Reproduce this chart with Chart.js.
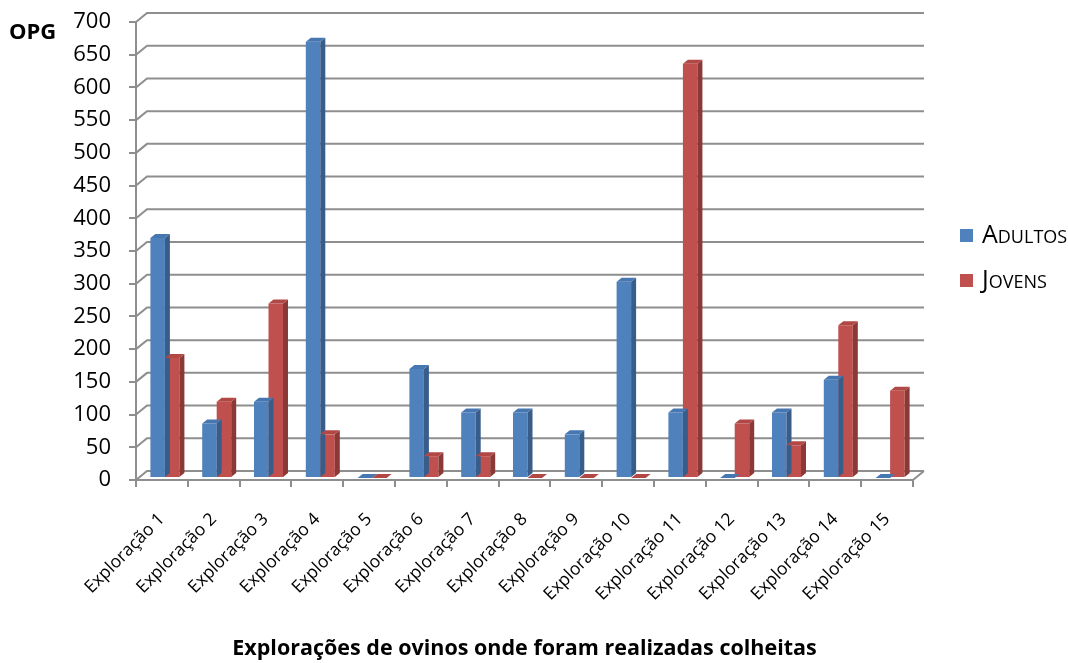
<!DOCTYPE html>
<html>
<head>
<meta charset="utf-8">
<script src="https://cdn.jsdelivr.net/npm/chart.js@4.4.1/dist/chart.umd.min.js"></script>
<style>
  html, body { margin: 0; background: #fff; }
  #chart { display: block; }
</style>
</head>
<body>
<canvas id="chart" width="1068" height="663"></canvas>
<script>
const categories = [
  'Exploração 1', 'Exploração 2', 'Exploração 3', 'Exploração 4', 'Exploração 5',
  'Exploração 6', 'Exploração 7', 'Exploração 8', 'Exploração 9', 'Exploração 10',
  'Exploração 11', 'Exploração 12', 'Exploração 13', 'Exploração 14', 'Exploração 15',
];
const adultos = [366.7, 83.3, 116.7, 666.7, 0, 166.7, 100, 100, 66.7, 300, 100, 0, 100, 150, 0];
const jovens = [183.3, 116.7, 266.7, 66.7, 0, 33.3, 33.3, 0, 0, 0, 633.3, 83.3, 50, 233.3, 133.3];
const yMin = 0;
const yMax = 700;
const yStep = 50;

const FONT = '"Open Sans", sans-serif';
const LINE = '#8e8e8e';

// back wall sits up and to the right of the front axes
const WALL = { dx: 11, dy: 9 };
// bar depth (side and top faces) and where the bar row sits between front and back
const BAR = { dx: 5, dy: 4 };
const ROW = { dx: 3, dy: -2 };

const series = [
  { label: 'Adultos', data: adultos, front: '#4f81bd', side: '#385d8a', top: '#4777b0' },
  { label: 'Jovens', data: jovens, front: '#c0504d', side: '#8c3836', top: '#b24845' },
];

const depth = {
  id: 'depth',
  beforeDatasetsDraw(chart) {
    const { ctx, chartArea: a, scales: { y } } = chart;
    ctx.save();
    ctx.strokeStyle = LINE;
    ctx.lineWidth = 2;
    ctx.beginPath();
    y.ticks.forEach((t) => {
      const py = y.getPixelForValue(t.value);
      ctx.moveTo(a.left, py);
      ctx.lineTo(a.left + WALL.dx, py - WALL.dy);
      ctx.lineTo(a.right + WALL.dx, py - WALL.dy);
    });
    ctx.moveTo(a.right, a.bottom);
    ctx.lineTo(a.right + WALL.dx, a.bottom - WALL.dy);
    ctx.stroke();
    ctx.restore();

    ctx.save();
    ctx.translate(ROW.dx, ROW.dy);
  },
  afterDatasetsDraw(chart) {
    const ctx = chart.ctx;
    chart.data.datasets.forEach((ds, i) => {
      chart.getDatasetMeta(i).data.forEach((bar) => {
        const { x, y, base, width } = bar.getProps(['x', 'y', 'base', 'width'], true);
        const l = x - width / 2;
        const r = x + width / 2;
        ctx.fillStyle = ds.sideColor;
        ctx.beginPath();
        ctx.moveTo(r, y);
        ctx.lineTo(r + BAR.dx, y - BAR.dy);
        ctx.lineTo(r + BAR.dx, base - BAR.dy);
        ctx.lineTo(r, base);
        ctx.closePath();
        ctx.fill();
        ctx.fillStyle = ds.topColor;
        ctx.beginPath();
        ctx.moveTo(l, y);
        ctx.lineTo(l + BAR.dx, y - BAR.dy);
        ctx.lineTo(r + BAR.dx, y - BAR.dy);
        ctx.lineTo(r, y);
        ctx.closePath();
        ctx.fill();
      });
    });
    ctx.restore();
  },
};

const labels = {
  id: 'labels',
  afterDraw(chart) {
    const ctx = chart.ctx;
    ctx.save();
    ctx.fillStyle = '#000';
    ctx.textBaseline = 'middle';
    ctx.textAlign = 'left';
    ctx.font = `bold 22px ${FONT}`;
    ctx.fillText('OPG', 9, 33);

    ctx.font = `small-caps 25px ${FONT}`;
    series.forEach((s, i) => {
      const cy = 236 + i * 45;
      ctx.fillStyle = s.front;
      ctx.fillRect(960, cy - 7, 13, 13);
      ctx.fillStyle = '#000';
      ctx.fillText(s.label, 982, cy);
    });
    ctx.restore();
  },
};

new Chart(document.getElementById('chart'), {
  type: 'bar',
  data: {
    labels: categories,
    datasets: series.map((s) => ({
      label: s.label,
      data: s.data,
      backgroundColor: s.front,
      sideColor: s.side,
      topColor: s.top,
      borderWidth: 0,
      categoryPercentage: 0.56,
      barPercentage: 1,
    })),
  },
  options: {
    responsive: false,
    animation: false,
    events: [],
    layout: { padding: { left: 0, top: 22, right: 155, bottom: 0 } },
    plugins: {
      legend: { display: false },
      tooltip: { enabled: false },
    },
    scales: {
      x: {
        offset: true,
        grid: { offset: true, drawOnChartArea: false, tickLength: 7, color: LINE, lineWidth: 2 },
        border: { color: LINE, width: 2 },
        ticks: {
          autoSkip: false,
          minRotation: 45,
          maxRotation: 45,
          padding: 22,
          color: '#000',
          font: { family: FONT, size: 17.5 },
        },
        title: {
          display: true,
          text: 'Explorações de ovinos onde foram realizadas colheitas',
          color: '#000',
          font: { family: FONT, size: 21.5, weight: 'bold' },
          padding: { top: 0, bottom: 1 },
        },
        afterFit(scale) {
          scale.height = 183;
          scale.paddingLeft = 0;
          scale.paddingRight = 0;
        },
      },
      y: {
        min: yMin,
        max: yMax,
        grid: { drawOnChartArea: false, tickLength: 7, color: LINE, lineWidth: 2 },
        border: { color: LINE, width: 2 },
        ticks: {
          stepSize: yStep,
          padding: 18,
          color: '#000',
          font: { family: FONT, size: 22 },
        },
        afterFit(scale) {
          scale.width = 136;
          scale.paddingTop = 0;
          scale.paddingBottom = 0;
        },
      },
    },
  },
  plugins: [depth, labels],
});
</script>
</body>
</html>
